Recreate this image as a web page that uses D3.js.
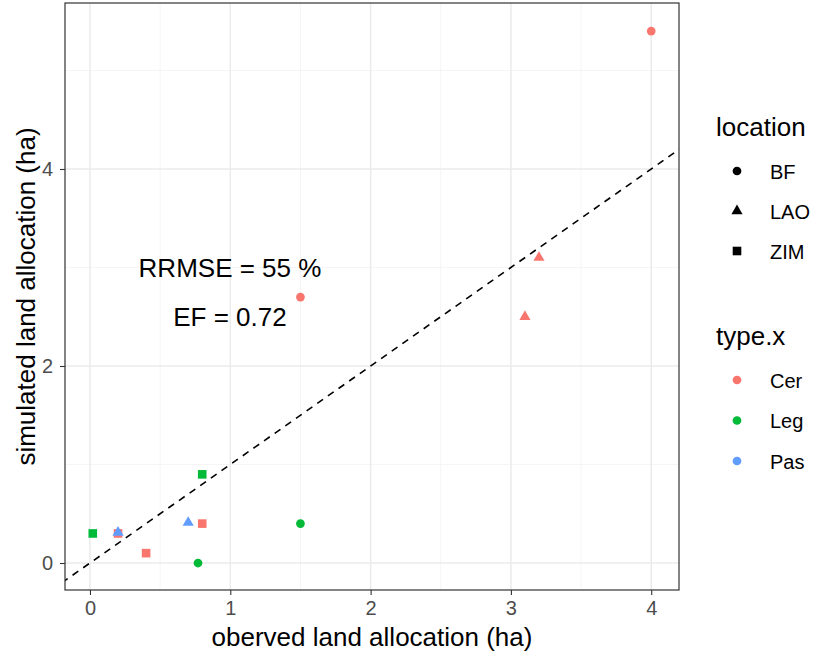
<!DOCTYPE html>
<html>
<head>
<meta charset="utf-8">
<script src="https://cdn.jsdelivr.net/npm/d3@7"></script>
<style>
  body { margin: 0; background: #fff; }
  text { font-family: "Liberation Sans", Arial, sans-serif; }
</style>
</head>
<body>
<div id="chart"></div>
<script>
// ===== Dữ liệu =====
const observed  = [4.0, 1.5, 3.1, 3.2, 0.2, 0.4, 0.8, 1.5, 0.77, 0.8, 0.02, 0.7, 0.2];
const simulated = [5.4, 2.7, 2.5, 3.1, 0.3, 0.1, 0.4, 0.4, 0.0, 0.9, 0.3, 0.41, 0.31];
const locations = ["BF", "BF", "LAO", "LAO", "ZIM", "ZIM", "ZIM", "BF", "BF", "ZIM", "ZIM", "LAO", "LAO"];
const types     = ["Cer", "Cer", "Cer", "Cer", "Cer", "Cer", "Cer", "Leg", "Leg", "Leg", "Leg", "Pas", "Pas"];

const locationLevels = ["BF", "LAO", "ZIM"];
const typeLevels = ["Cer", "Leg", "Pas"];
const typeColors = ["#F8766D", "#00BA38", "#619CFF"];
const xTicks = [0, 1, 2, 3, 4];
const yTicks = [0, 2, 4];
const xMinor = [0.5, 1.5, 2.5, 3.5];
const yMinor = [1, 3, 5];
const annotations = ["RRMSE = 55 %", "EF = 0.72"];

const W = 813, H = 653;
const panel = { left: 65, right: 679, top: 3, bottom: 590 };

const svg = d3.select("#chart").append("svg")
  .attr("width", W).attr("height", H);

const x = d3.scaleLinear().domain([-0.178, 4.198]).range([panel.left, panel.right]);
const y = d3.scaleLinear().domain([-0.274, 5.685]).range([panel.bottom, panel.top]);

const color = d3.scaleOrdinal().domain(typeLevels).range(typeColors);
const shape = d3.scaleOrdinal().domain(locationLevels)
  .range([d3.symbolCircle, d3.symbolTriangle, d3.symbolSquare]);
const shapeSize = { BF: 60, LAO: 54, ZIM: 74 };

// Grid phụ
const grid = svg.append("g");
grid.selectAll(".xminor").data(xMinor).enter().append("line")
  .attr("x1", d => x(d)).attr("x2", d => x(d))
  .attr("y1", panel.top).attr("y2", panel.bottom)
  .attr("stroke", "#f2f2f2").attr("stroke-width", 0.8);
grid.selectAll(".yminor").data(yMinor).enter().append("line")
  .attr("y1", d => y(d)).attr("y2", d => y(d))
  .attr("x1", panel.left).attr("x2", panel.right)
  .attr("stroke", "#f2f2f2").attr("stroke-width", 0.8);
// Grid chính
grid.selectAll(".xmajor").data(xTicks).enter().append("line")
  .attr("x1", d => x(d)).attr("x2", d => x(d))
  .attr("y1", panel.top).attr("y2", panel.bottom)
  .attr("stroke", "#ebebeb").attr("stroke-width", 1.5);
grid.selectAll(".ymajor").data(yTicks).enter().append("line")
  .attr("y1", d => y(d)).attr("y2", d => y(d))
  .attr("x1", panel.left).attr("x2", panel.right)
  .attr("stroke", "#ebebeb").attr("stroke-width", 1.5);

// Đường 1:1 (nét đứt)
svg.append("clipPath").attr("id", "clip").append("rect")
  .attr("x", panel.left).attr("y", panel.top)
  .attr("width", panel.right - panel.left).attr("height", panel.bottom - panel.top);
svg.append("line")
  .attr("clip-path", "url(#clip)")
  .attr("x1", x(-0.2)).attr("y1", y(-0.2))
  .attr("x2", x(4.3)).attr("y2", y(4.3))
  .attr("stroke", "#000").attr("stroke-width", 1.6)
  .attr("stroke-dasharray", "7,6");

// Điểm
const pts = observed.map((o, i) => ({ o, s: simulated[i], loc: locations[i], type: types[i] }));
svg.selectAll(".pt").data(pts).enter().append("path")
  .attr("transform", d => `translate(${x(d.o)},${y(d.s)})`)
  .attr("d", d => d3.symbol().type(shape(d.loc)).size(shapeSize[d.loc])())
  .attr("fill", d => color(d.type));

// Chú thích
svg.append("text").attr("x", 230).attr("y", 277).attr("text-anchor", "middle")
  .style("font-size", "26px").text(annotations[0]);
svg.append("text").attr("x", 230).attr("y", 326).attr("text-anchor", "middle")
  .style("font-size", "26px").text(annotations[1]);

// Khung panel
svg.append("rect")
  .attr("x", panel.left).attr("y", panel.top)
  .attr("width", panel.right - panel.left).attr("height", panel.bottom - panel.top)
  .attr("fill", "none").attr("stroke", "#333").attr("stroke-width", 1.2);

// Trục
const xAxis = svg.append("g").attr("transform", `translate(0,${panel.bottom})`)
  .call(d3.axisBottom(x).tickValues(xTicks).tickFormat(d3.format("d"))
    .tickSize(5).tickPadding(6).tickSizeOuter(0));
const yAxis = svg.append("g").attr("transform", `translate(${panel.left},0)`)
  .call(d3.axisLeft(y).tickValues(yTicks).tickFormat(d3.format("d"))
    .tickSize(5).tickPadding(7).tickSizeOuter(0));
[xAxis, yAxis].forEach(g => {
  g.select(".domain").remove();
  g.selectAll("line").attr("stroke", "#333").attr("stroke-width", 1.1);
  g.selectAll("text").style("font-size", "20px").attr("fill", "#4d4d4d")
    .style("font-family", "Liberation Sans, Arial, sans-serif");
});

svg.append("text").attr("x", (panel.left + panel.right) / 2).attr("y", 646)
  .attr("text-anchor", "middle").style("font-size", "26px")
  .text("oberved land allocation (ha)");
svg.append("text")
  .attr("transform", `translate(35,${(panel.top + panel.bottom) / 2}) rotate(-90)`)
  .attr("text-anchor", "middle").style("font-size", "26px")
  .text("simulated land allocation (ha)");

// Legend
const lg = svg.append("g");
lg.append("text").attr("x", 716).attr("y", 136).style("font-size", "26px").text("location");
locationLevels.forEach((l, i) => {
  const cy = 171 + i * 40;
  lg.append("path").attr("transform", `translate(737,${cy})`)
    .attr("d", d3.symbol().type(shape(l)).size(shapeSize[l])()).attr("fill", "#000");
  lg.append("text").attr("x", 770).attr("y", cy + 7.5).style("font-size", "20px").text(l);
});
lg.append("text").attr("x", 716).attr("y", 345).style("font-size", "26px").text("type.x");
typeLevels.forEach((t, i) => {
  const cy = 380 + i * 40.5;
  lg.append("path").attr("transform", `translate(737,${cy})`)
    .attr("d", d3.symbol().type(d3.symbolCircle).size(60)()).attr("fill", color(t));
  lg.append("text").attr("x", 770).attr("y", cy + 7.5).style("font-size", "20px").text(t);
});
</script>
</body>
</html>
